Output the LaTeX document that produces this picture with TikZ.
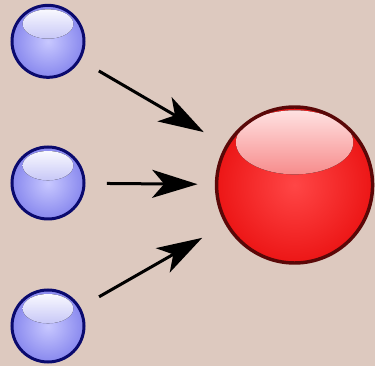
\documentclass[tikz,border=0pt]{standalone}
\usepackage{tikz}
\usepackage{xcolor}
\usetikzlibrary{arrows.meta}
\usetikzlibrary{positioning}

\definecolor{backdrop}{RGB}{221,201,191}
\definecolor{inedge}{RGB}{10,10,110}
\definecolor{inface}{RGB}{136,136,238}
\definecolor{inlight}{RGB}{200,200,255}
\definecolor{outedge}{RGB}{90,8,8}
\definecolor{outface}{RGB}{236,22,22}
\definecolor{outlight}{RGB}{255,70,70}

\begin{document}
\begin{tikzpicture}[x=0.75pt, y=-0.75pt,
    inball/.style={circle, minimum size=54pt, inner sep=0pt, draw=inedge, line width=2.25pt,
        inner color=inlight, outer color=inface,
        path picture={\fill[top color=white, bottom color=inface]
            ([yshift=13pt]path picture bounding box.center) ellipse [x radius=19pt, y radius=11pt];}},
    outball/.style={circle, minimum size=117pt, inner sep=0pt, draw=outedge, line width=2.6pt,
        inner color=outlight, outer color=outface,
        path picture={\fill[top color=white!90!red, bottom color=outface]
            ([yshift=32pt]path picture bounding box.center) ellipse [x radius=44pt, y radius=24pt];}},
    feed/.style={line width=2.25pt, -{Stealth[length=34pt, width=21pt, inset=9pt]}, shorten <=16pt}]
    \fill[backdrop] (0,0) rectangle (375,366);
    \useasboundingbox (0,0) rectangle (375,366);
    \node[inball] (in2) at (48,183) {};
    \node[inball, above=50pt of in2] (in1) {};
    \node[inball, below=51pt of in2] (in3) {};
    \node[outball, right=97pt of in2, yshift=-1.5pt] (out) {};
    \draw[feed, shorten >=19pt] (in1) -- (out);
    \draw[feed, shorten >=13pt] (in2) -- (out);
    \draw[feed, shorten >=20pt] (in3) -- (out);
\end{tikzpicture}
\end{document}
